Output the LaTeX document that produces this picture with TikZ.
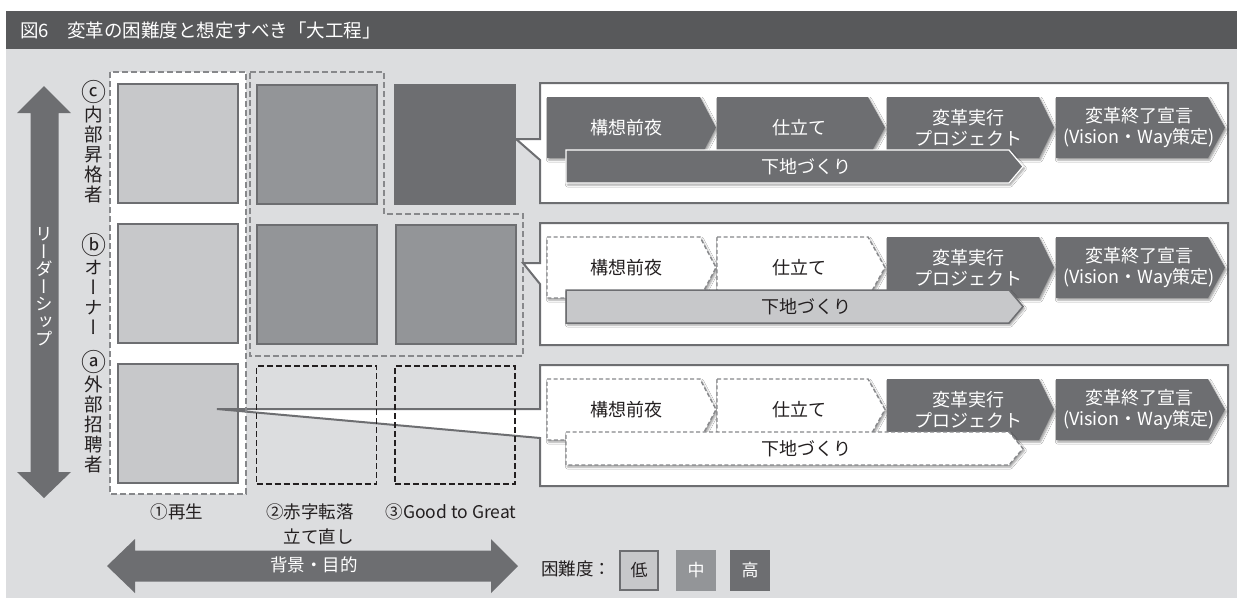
\documentclass[tikz,border=0pt]{standalone}
\usepackage{fontspec}
\setmainfont{Noto Sans CJK JP}
\newfontfamily\vfont[RawFeature={+vert}]{Noto Sans CJK JP}
\usetikzlibrary{shadows.blur}
\definecolor{bgl}{HTML}{DCDDDF}
\definecolor{ttl}{HTML}{58595B}
\definecolor{dk}{HTML}{6D6E71}
\definecolor{md}{HTML}{939598}
\definecolor{lt}{HTML}{C7C8CA}
\definecolor{dsh}{HTML}{87888B}
\definecolor{ink}{HTML}{231F20}
\newcommand\fs[2]{\fontsize{#1pt}{#2pt}\selectfont}
\newcommand\circl[1]{\scalebox{1.35}{#1}}
\tikzset{
  shd/.style={blur shadow={shadow xshift=1.5pt, shadow yshift=-2pt, shadow blur radius=2pt, shadow opacity=40}},
  cell/.style={draw=dk, line width=2pt, inner sep=0pt, minimum width=120pt, minimum height=119pt},
  dcell/.style={draw=ink, line width=1.8pt, dash pattern=on 6pt off 3pt, inner sep=0pt, minimum width=120pt, minimum height=118pt},
  dashG/.style={draw=dsh, line width=1.8pt, dash pattern=on 6pt off 3pt},
  panel/.style={fill=white, draw=dk, line width=2pt},
  chevdark/.style={fill=dk, shd},
  chevdash/.style={fill=white, draw=dsh, line width=1.4pt, dash pattern=on 4pt off 2.5pt, shd},
  bardark/.style={fill=dk, draw=white, line width=1.2pt, shd},
  barlight/.style={fill=lt, draw=dk, line width=1.5pt, shd},
  bardash/.style={fill=white, draw=dsh, line width=1.4pt, dash pattern=on 4pt off 2.5pt, shd},
  ctext/.style={font=\fs{18}{21}, align=center, inner sep=0pt},
  lab/.style={font=\fs{17.5}{25}, text=ink, inner sep=0pt},
  vlab/.style={font=\vfont\fs{18.5}{20}, align=center, inner sep=0pt, text=ink},
  legbox/.style={font=\fs{17}{20}, minimum width=38pt, minimum height=39pt, inner sep=0pt, line width=2pt}
}
\newcommand\chevpath[6]{\path[#6] (#1,#4) -- (#2,#4) -- (#3,{(#4+#5)/2}) -- (#2,#5) -- (#1,#5) -- cycle;}
\newcommand\mypanel[5]{\path[panel] (540,#1) -- (1228,#1) -- (1228,#2) -- (540,#2) -- (540,#5) -- (#3,#4) -- (540,#4) -- cycle;}
\newcommand\myrow[6]{%
\pgfmathsetmacro\ya{#2+14}\pgfmathsetmacro\yb{#2+75}\pgfmathsetmacro\ym{#2+44.5}%
\pgfmathsetmacro\ba{#2+67}\pgfmathsetmacro\bb{#2+100}\pgfmathsetmacro\bm{#2+83.5}%
\chevpath{547}{700}{716}{\ya}{\yb}{#3}
\chevpath{717}{868}{885}{\ya}{\yb}{#3}
\chevpath{887}{1039}{1054}{\ya}{\yb}{chevdark}
\chevpath{1056}{1208}{1225}{\ya}{\yb}{chevdark}
\node[ctext, text=#4] (#1s1) at (626,\ym) {構想前夜};
\node[ctext, text=#4] (#1s2) at (799,\ym) {仕立て};
\node[ctext, text=white] (#1s3) at (968,\ym) {変革実行\\プロジェクト};
\node[ctext, text=white] (#1s4) at (1139,\ym) {変革終了宣言\\(Vision・Way策定)};
\chevpath{566}{1009}{1023}{\ba}{\bb}{#5}
\node[ctext, text=#6] (#1b) at (806,\bm) {下地づくり};
}
\begin{document}
\begin{tikzpicture}[x=1pt,y=-1pt,line join=miter]
\useasboundingbox (0,0) rectangle (1237,598);
\fill[white] (0,0) rectangle (1237,598);
\fill[ttl] (6,11) rectangle (1237,49);
\fill[bgl] (6,49) rectangle (1237,598);
\node[anchor=west, text=white, font=\fs{18.5}{20}, inner sep=0pt] (title) at (20,30) {図6　変革の困難度と想定すべき「大工程」};

% vertical arrow
\fill[dk] (44,86) -- (71,113) -- (58.5,113) -- (58.5,472) -- (71,472) -- (44,498) -- (17,472) -- (30.5,472) -- (30.5,113) -- (17,113) -- cycle;
\node[vlab, text=white, font=\vfont\fs{17.5}{17.5}] (lead) at (44.5,287) {リ\\ー\\ダ\\ー\\シ\\ッ\\プ};

% row labels
\node[vlab] (lc) at (94,142) {\circl{ⓒ}\\内\\部\\昇\\格\\者};
\node[vlab] (lb) at (94,284) {\circl{ⓑ}\\オ\\ー\\ナ\\ー};
\node[vlab] (la) at (94,412) {\circl{ⓐ}\\外\\部\\招\\聘\\者};

% column groups
\path[fill=white] (110,72) rectangle (246,494);
\draw[dashG] (250,72) -- (384,72) -- (384,214) -- (523,214) -- (523,356) -- (250,356) -- cycle;

% cells
\node[cell, fill=lt] (c1) at (178,143.5) {};
\node[cell, fill=lt] (b1) at (178,283) {};
\node[cell, fill=lt] (a1) at (178,423) {};
\node[cell, fill=md] (c2) at (316.5,144) {};
\node[cell, fill=dk, draw=dk] (c3) at (455,144) {};
\node[cell, fill=md] (b2) at (316.5,284.5) {};
\node[cell, fill=md] (b3) at (455.5,284.5) {};

% panels
\mypanel{83}{203}{516}{139}{160}
\mypanel{223}{345}{523}{263}{284}
\mypanel{365}{486}{217}{409}{438}

\draw[dashG] (110,72) rectangle (246,494);
\node[dcell] (a2) at (316.5,425) {};
\node[dcell] (a3) at (455,425) {};

% process rows
\myrow{p}{83}{chevdark}{white}{bardark}{white}
\myrow{q}{223}{chevdash}{ink}{barlight}{ink}
\myrow{r}{365}{chevdash}{ink}{bardash}{ink}

% bottom labels
\node[lab] (l1) at (177,512) {①再生};
\node[lab, align=right, anchor=east] (l2) at (354,524.5) {②赤字転落\\立て直し};
\node[lab] (l3) at (451,512) {③Good to Great};

% horizontal arrow
\fill[dk] (107,566) -- (135,539) -- (135,550.5) -- (491,550.5) -- (491,539) -- (518,566) -- (491,593) -- (491,581.5) -- (135,581.5) -- (135,593) -- cycle;
\node[lab, text=white] (purpose) at (314,565) {背景・目的};

% legend
\node[lab, anchor=west] (leg) at (541,569) {困難度：};
\node[legbox, fill=lt, draw=dk, text=ink] (low) at (639,570) {低};
\node[legbox, fill=md, draw=md, text=white] (mid) at (696,570) {中};
\node[legbox, fill=dk, draw=dk, text=white] (high) at (750,570) {高};
\end{tikzpicture}
\end{document}
